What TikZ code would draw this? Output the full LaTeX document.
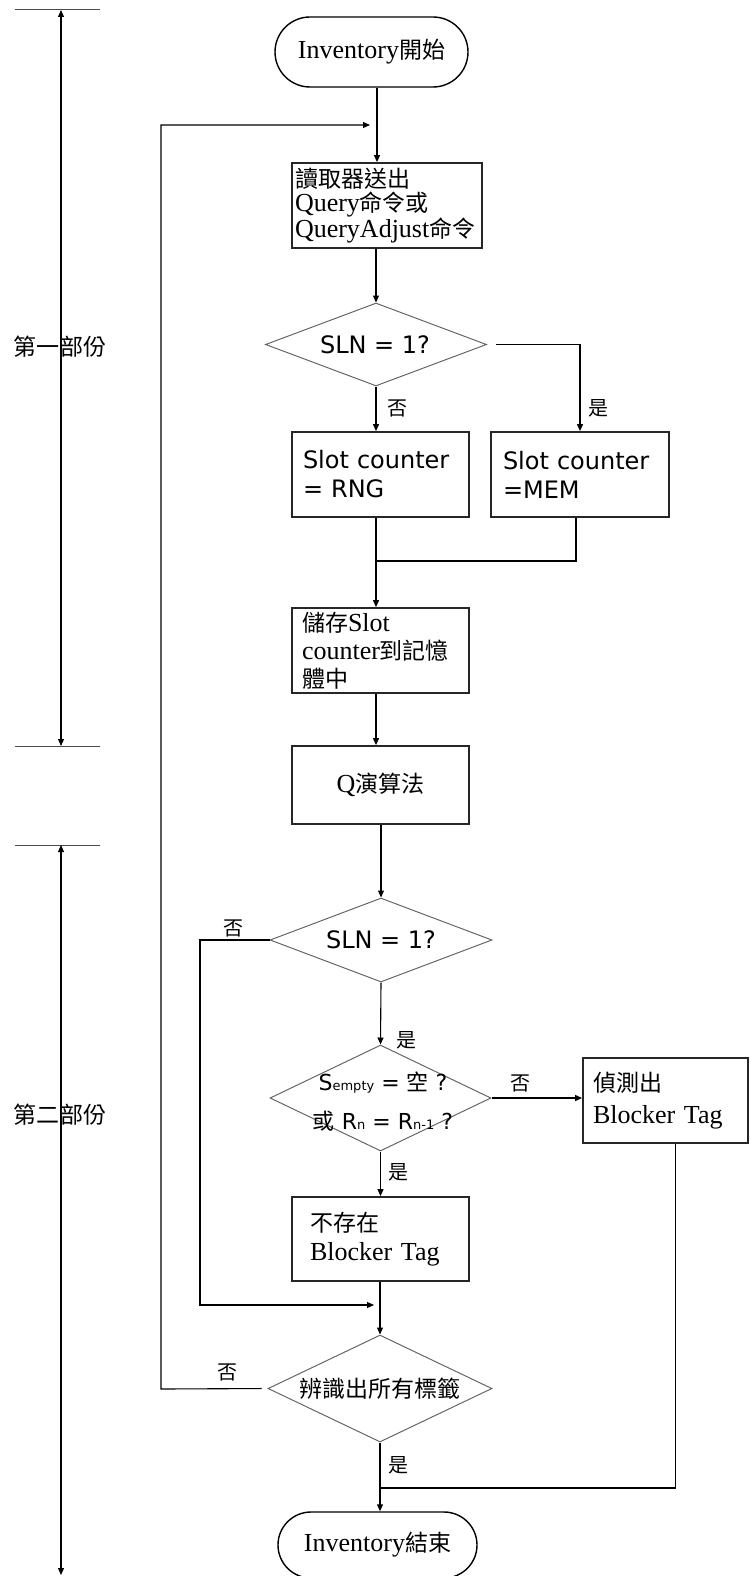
\documentclass[tikz,border=0pt]{standalone}
\usepackage{fontspec}
\setmainfont{Liberation Serif}
\newfontfamily\cjkfont{Noto Sans CJK TC}[Scale=0.885]
\newfontfamily\cjkb{Noto Sans CJK TC}
\newfontfamily\vsans{DejaVu Sans}
\usetikzlibrary{shapes.geometric,arrows.meta}
\newcommand\zh[1]{{\cjkfont #1}}
\newcommand\txtsz{\fontsize{26}{24}\selectfont}
\newcommand\subsz{\fontsize{13}{13}\selectfont}

\begin{document}
\begin{tikzpicture}[x=1pt,y=-1pt,
  every node/.style={inner sep=0pt},
  conn/.style={line width=1.1pt},
  arr/.style={conn,-{Triangle[length=7pt,width=6pt]}},
  term/.style={draw,line width=1.4pt,font=\txtsz},
  procbox/.style={draw=black!85,line width=1.8pt,minimum height=85pt,align=left,font=\txtsz},
  sansbox/.style={procbox,font=\vsans\fontsize{24}{29}\selectfont},
  decision/.style={diamond,draw=black!60,line width=1pt},
  dtext/.style={font=\vsans\fontsize{24}{29}\selectfont},
  yn/.style={font=\cjkb\fontsize{20}{22}\selectfont},
  partlbl/.style={font=\txtsz},
  tick/.style={draw=black!70,line width=1pt}
]
\useasboundingbox (0,0) rectangle (750,1576);

% --- part markers on the left ---
\coordinate (t1a) at (15,10);  \coordinate (t1b) at (100,10);
\coordinate (t2a) at (15,746); \coordinate (t2b) at (100,746);
\coordinate (t3a) at (15,845); \coordinate (t3b) at (100,845);
\coordinate (v1t) at (61,10);  \coordinate (v1b) at (61,746);
\coordinate (v2t) at (61,845); \coordinate (v2b) at (61,1575);
\draw[tick] (t1a) -- (t1b);
\draw[tick] (t2a) -- (t2b);
\draw[tick] (t3a) -- (t3b);
\draw[conn,{Triangle[length=7pt,width=6pt]}-{Triangle[length=7pt,width=6pt]}] (v1t) -- (v1b);
\draw[conn,{Triangle[length=7pt,width=6pt]}-{Triangle[length=7pt,width=6pt]}] (v2t) -- (v2b);
\node[partlbl] (p1) at (60,347) {\zh{第一部份}};
\node[partlbl] (p2) at (60,1115) {\zh{第二部份}};

% --- flowchart nodes ---
\node[term,rounded corners=35pt,minimum width=193pt,minimum height=70pt] (start) at (371.5,52) {Inventory\zh{開始}};
\node[procbox,text width=184pt,inner xsep=3pt] (b1) at (387,205.5)
  {\zh{讀取器送出}\\Query\zh{命令或}\\QueryAdjust\zh{命令}};
\node[decision,minimum width=221pt,minimum height=83pt] (d1) at (376,344.5) {};
\node[dtext] (d1t) at (375,344.5) {SLN = 1?};
\node[sansbox,text width=155pt,inner xsep=11pt] (b2) at (380.5,474.5) {Slot counter\\= RNG};
\node[sansbox,text width=154pt,inner xsep=12pt] (b3) at (580,474.5) {Slot counter\\=MEM};
\node[procbox,text width=157pt,inner xsep=10pt,font=\fontsize{26}{28}\selectfont] (b4) at (380.5,650.5)
  {\zh{儲存}Slot\\counter\zh{到記憶}\\\zh{體中}};
\node[procbox,minimum width=177pt,minimum height=78pt,align=center] (b5) at (380.5,785) {Q\zh{演算法}};
\node[decision,minimum width=222pt,minimum height=84pt] (d2) at (381,940) {};
\node[dtext] (d2t) at (381,940) {SLN = 1?};
\node[decision,minimum width=221pt,minimum height=106pt] (d3) at (380.5,1098) {};
\node[align=center,font=\vsans\fontsize{22}{39}\selectfont] (d3t) at (383,1102)
  {S{\subsz empty} = {\cjkb 空} ?\\{\cjkb 或} R{\subsz n} = R{\subsz n-1} ?};
\node[procbox,text width=145pt,inner xsep=10pt,font=\fontsize{26}{32}\selectfont] (b6) at (665.5,1100.5)
  {\zh{偵測出}\\Blocker Tag};
\node[procbox,text width=141pt,inner xsep=18pt,minimum height=84pt,font=\fontsize{26}{29}\selectfont] (b7) at (380.5,1239)
  {\zh{不存在}\\Blocker Tag};
\node[decision,minimum width=224pt,minimum height=107pt] (d4) at (380,1388.5) {};
\node[font=\txtsz] (d4t) at (380,1389) {\zh{辨識出所有標籤}};
\node[term,rounded corners=33pt,minimum width=199pt,minimum height=66pt] (endt) at (377.5,1545) {Inventory\zh{結束}};

% --- branch labels ---
\node[yn] (l1) at (397,408) {否};
\node[yn] (l2) at (598,408) {是};
\node[yn] (l3) at (233,928) {否};
\node[yn] (l4) at (406,1040) {是};
\node[yn] (l5) at (520,1083) {否};
\node[yn] (l6) at (398,1172) {是};
\node[yn] (l7) at (227,1372) {否};
\node[yn] (l8) at (398,1465) {是};

% --- connectors ---
\coordinate (sp) at (377,0);
\coordinate (j1) at (370,125);
\coordinate (lt) at (161,125);
\coordinate (lb) at (161,1389);
\coordinate (m1) at (376,561);
\coordinate (c2) at (200,1305);
\coordinate (j2) at (374,1305);
\coordinate (m3) at (380,1488);

\draw[arr] (start.south -| sp) -- (b1.north -| sp);
\draw[arr] (b1.south -| d1.north) -- (d1.north);
\draw[arr] (d1.south) -- (d1.south |- b2.north);
\draw[arr,shorten <=9pt] (d1.east) -| (b3.north);
\draw[conn] (b2.south -| m1) -- (m1);
\draw[conn] ([xshift=-4pt]b3.south) |- (m1);
\draw[arr] (m1) -- (m1 |- b4.north);
\draw[arr] (b4.south -| m1) -- (b5.north -| m1);
\draw[arr] (b5.south -| d2.north) -- (d2.north);
\draw[arr] (d2.west) -| (c2) -- (j2);
\draw[arr] (d2.south) -- (d3.north);
\draw[arr] (d3.east) -- (d3.east -| b6.west);
\draw[arr] (d3.south) -- (d3.south |- b7.north);
\draw[arr] (b7.south -| d4.north) -- (d4.north);
\draw[arr,shorten <=6pt] (d4.west) -- (lb) -- (lt) -- (j1);
\draw[arr] (d4.south) -- (d4.south |- endt.north);
\draw[conn] ([xshift=10pt]b6.south) |- (m3);
\end{tikzpicture}
\end{document}
